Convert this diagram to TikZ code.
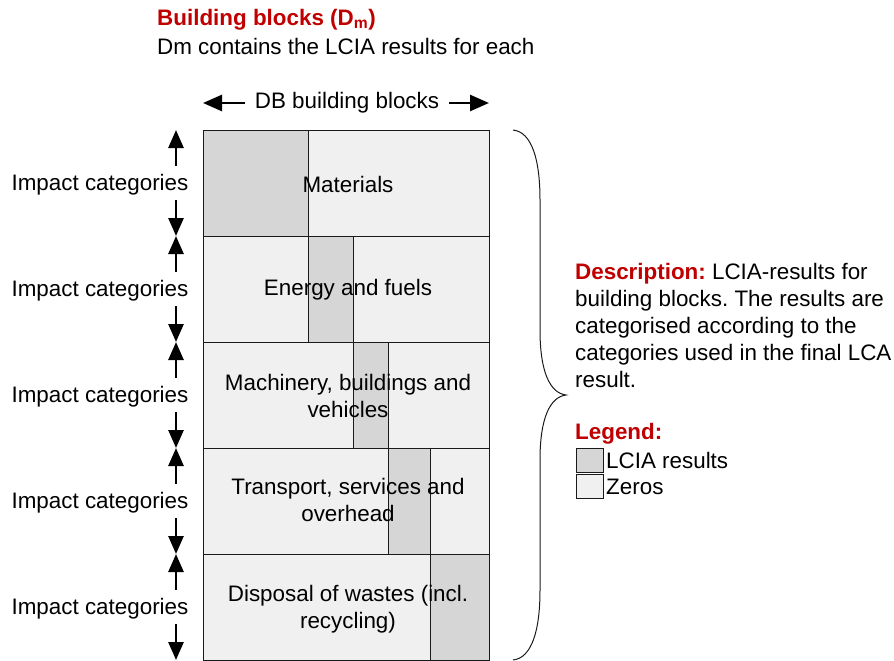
\documentclass[tikz,border=0pt]{standalone}
\usepackage{fontspec}
\setmainfont{Liberation Sans}
\usetikzlibrary{arrows.meta}
\definecolor{redt}{HTML}{C00000}
\definecolor{gfill}{HTML}{D6D6D6}
\definecolor{lfill}{HTML}{F0F0F0}
\definecolor{edge}{HTML}{1A1A1A}
\begin{document}
\frenchspacing
\begin{tikzpicture}[x=1pt,y=-1pt,
  every node/.style={font=\fontsize{22.4}{27}\selectfont\frenchspacing, inner sep=0pt},
  rowbox/.style={draw=edge, line width=1.1pt, fill=lfill, minimum width=286pt, minimum height=106pt, anchor=north west},
  colbox/.style={draw=edge, line width=1.1pt, fill=gfill, minimum height=106pt, anchor=north west},
  lbl/.style={align=center},
  arr/.style={-{Triangle[width=15pt,length=18pt]}, line width=2.6pt},
  legbox/.style={draw=edge, line width=1pt, minimum width=27pt, minimum height=24pt, anchor=north west}]
\useasboundingbox (0,0) rectangle (894,661);

% title
\node[anchor=west, text=redt, font=\fontsize{22.4}{27}\selectfont\bfseries] (title) at (157,20) {Building blocks (D\textsubscript{m})};
\node[anchor=west] (sub) at (157,46) {Dm contains the LCIA results for each};

% top label
\node (db) at (347,103) {DB building blocks};
\coordinate (dbl) at (203,103);
\coordinate (dbr) at (489,103);
\draw[arr, -{Triangle[width=16pt,length=19pt]}] (db.west) ++(-10,0) coordinate (dbls) -- (dbl);
\draw[arr, -{Triangle[width=16pt,length=19pt]}] (db.east) ++(10,0) coordinate (dbrs) -- (dbr);

% rows
\foreach \i/\t/\gx/\gw in {1/130/203/105, 2/236/308/45, 3/342/353/35, 4/448/388/42, 5/554/430/59}{
  \node[rowbox] (r\i) at (203,\t) {};
  \node[colbox, minimum width=\gw pt] (g\i) at (\gx,\t) {};
  \node (ic\i) at (100,\t+55) {Impact categories};
  \coordinate (up\i) at (176,\t);
  \coordinate (dn\i) at (176,\t+106);
  \draw[arr] (176,\t+36) coordinate (us\i) -- (up\i);
  \draw[arr] (176,\t+70) coordinate (ds\i) -- (dn\i);
}

\node[lbl] (t1) at (348,184) {Materials};
\node[lbl] (t2) at (348,290) {Energy and fuels};
\node[lbl] (t3) at (348,395.5) {Machinery, buildings and\\vehicles};
\node[lbl] (t4) at (348,500) {Transport, services and\\overhead};
\node[lbl] (t5) at (348,609) {Disposal of wastes (incl.\\recycling)};

% brace
\coordinate (bt) at (513,130);
\coordinate (btip) at (566,395);
\coordinate (bb) at (513,660);
\draw[line width=1pt, edge] (bt) .. controls (532,132) and (540,160) .. (540,200)
  -- (540,330) .. controls (540,372) and (550,393) .. (btip)
  .. controls (550,397) and (540,418) .. (540,460)
  -- (540,590) .. controls (540,630) and (532,658) .. (bb);

% description
\node[anchor=north west, align=left] (desc) at (575,263) {\textcolor{redt}{\bfseries Description:} LCIA-results for\\building blocks. The results are\\categorised according to the\\categories used in the final LCA\\result.};

% legend
\node[anchor=west, text=redt, font=\fontsize{22.4}{27}\selectfont\bfseries] (leg) at (575,434) {Legend:};
\node[legbox, fill=gfill] (lg1) at (576,448) {};
\node[legbox, fill=lfill] (lg2) at (576,474) {};
\node[anchor=west] (lt1) at ([xshift=2pt]lg1.east) {LCIA results};
\node[anchor=west] (lt2) at ([xshift=2pt]lg2.east) {Zeros};
\end{tikzpicture}
\end{document}
